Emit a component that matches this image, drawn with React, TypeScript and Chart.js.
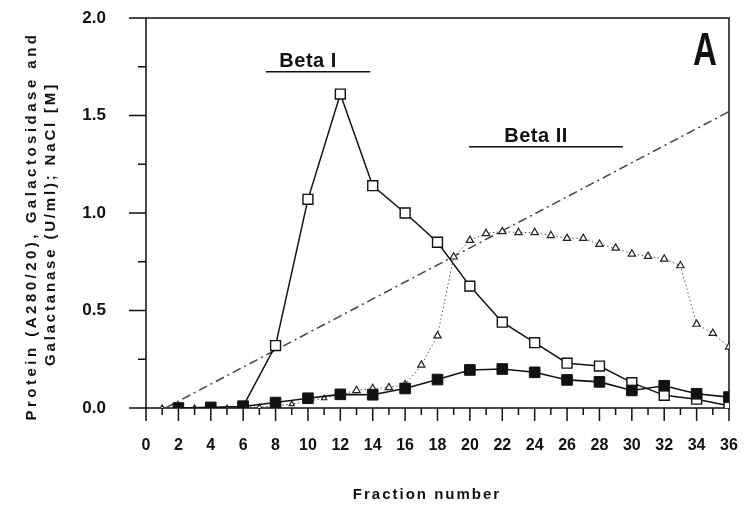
import { useEffect, useRef } from 'react';
import { Chart, registerables } from 'chart.js';

Chart.register(...registerables);

// Protein (A280/20), open squares
const proteinFractions = [6, 8, 10, 12, 14, 16, 18, 20, 22, 24, 26, 28, 30, 32, 34, 36];
const proteinValues = [0.01, 0.32, 1.07, 1.61, 1.14, 1.0, 0.85, 0.625, 0.44, 0.335, 0.23, 0.215, 0.13, 0.065, 0.045, 0.012];

// Galactosidase (U/ml), filled squares
const galactosidaseFractions = [2, 4, 6, 8, 10, 12, 14, 16, 18, 20, 22, 24, 26, 28, 30, 32, 34, 36];
const galactosidaseValues = [0.0, 0.003, 0.008, 0.028, 0.05, 0.07, 0.068, 0.1, 0.146, 0.195, 0.2, 0.183, 0.144, 0.134, 0.09, 0.114, 0.073, 0.056];

// Galactanase (U/ml), open triangles
const galactanaseFractions = [1, 2, 3, 4, 5, 6, 7, 8, 9, 10, 11, 12, 13, 14, 15, 16, 17, 18, 19, 20, 21, 22, 23, 24, 25, 26, 27, 28, 29, 30, 31, 32, 33, 34, 35, 36];
const galactanaseValues = [0, 0, 0, 0, 0, 0.003, 0.005, 0.01, 0.02, 0.035, 0.05, 0.07, 0.09, 0.1, 0.105, 0.12, 0.22, 0.37, 0.775, 0.86, 0.895, 0.905, 0.9, 0.9, 0.885, 0.87, 0.87, 0.84, 0.82, 0.79, 0.778, 0.764, 0.73, 0.43, 0.383, 0.313];

// NaCl gradient [M]
const saltFractions = [1.2, 36];
const saltValues = [0, 1.52];

// Pooled fractions
const poolLabels = ['Beta I', 'Beta II'];
const poolStart = [7.4, 19.95];
const poolEnd = [13.85, 29.45];
const poolLevel = [1.725, 1.34];

const W = 747;
const H = 508;
const AREA_LEFT = 146;
const AREA_RIGHT = 729;
const AREA_TOP = 18;
const AREA_BOTTOM = 408;

const FONT = "'Liberation Sans', Arial, sans-serif";
const INK = '#111';

const points = (xs: number[], ys: number[]) => xs.map((x, i) => ({ x, y: ys[i] }));

// the axes keep the plot box fixed; no extra room for label overhang
const clearScalePadding = (s: any) => {
  s.paddingTop = 0;
  s.paddingBottom = 0;
  s.paddingLeft = 0;
  s.paddingRight = 0;
};

// draw text stretched by letter spacing to a given length
const spacedText = (ctx: CanvasRenderingContext2D, text: string, length: number) => {
  ctx.letterSpacing = '0px';
  const w = ctx.measureText(text).width;
  ctx.letterSpacing = `${Math.max(0, (length - w) / text.length)}px`;
  ctx.fillText(text, 0, 0);
  ctx.letterSpacing = '0px';
};

const framePlugin = {
  id: 'frame',
  beforeDatasetsDraw(chart: any) {
    const { ctx, chartArea: a, scales } = chart;
    const xs = scales.x;
    const ys = scales.y;
    ctx.save();
    ctx.strokeStyle = INK;
    ctx.lineWidth = 1.5;
    ctx.beginPath();
    ctx.rect(a.left, a.top, a.right - a.left, a.bottom - a.top);
    ctx.stroke();
    ctx.beginPath();
    // y ticks, pointing outward to the left
    for (let v = 0; v <= 2.0001; v += 0.25) {
      const y = ys.getPixelForValue(v);
      const major = Math.abs(v * 2 - Math.round(v * 2)) < 1e-6;
      ctx.moveTo(a.left - (major ? 17 : 8), y);
      ctx.lineTo(a.left, y);
    }
    // x ticks, pointing down
    for (let v = 0; v <= 36; v += 1) {
      const x = xs.getPixelForValue(v);
      ctx.moveTo(x, a.bottom);
      ctx.lineTo(x, a.bottom + (v % 2 === 0 ? 13 : 7));
    }
    ctx.stroke();

    // pooled fraction bars with their labels
    ctx.font = `bold 20px ${FONT}`;
    ctx.fillStyle = INK;
    ctx.textAlign = 'center';
    ctx.textBaseline = 'alphabetic';
    poolLabels.forEach((label, i) => {
      const x0 = xs.getPixelForValue(poolStart[i]);
      const x1 = xs.getPixelForValue(poolEnd[i]);
      const y = ys.getPixelForValue(poolLevel[i]);
      ctx.beginPath();
      ctx.moveTo(x0, y);
      ctx.lineTo(x1, y);
      ctx.stroke();
      ctx.letterSpacing = '0.5px';
      ctx.fillText(label, (x0 + x1) / 2 - 10, y - 5);
      ctx.letterSpacing = '0px';
    });
    ctx.restore();
  },
  afterDraw(chart: any) {
    const { ctx } = chart;
    ctx.save();
    ctx.fillStyle = INK;
    ctx.textAlign = 'center';
    ctx.textBaseline = 'middle';

    // y-axis title, two rotated lines
    ctx.font = `bold 15px ${FONT}`;
    ctx.save();
    ctx.translate(32, 226);
    ctx.rotate(-Math.PI / 2);
    spacedText(ctx, 'Protein (A280/20), Galactosidase and', 389);
    ctx.restore();
    ctx.save();
    ctx.translate(51, 224);
    ctx.rotate(-Math.PI / 2);
    spacedText(ctx, 'Galactanase (U/ml); NaCl [M]', 284);
    ctx.restore();

    // x-axis title
    ctx.font = `bold 15px ${FONT}`;
    ctx.letterSpacing = '2px';
    ctx.fillText('Fraction number', 427, 495);

    // panel letter
    ctx.letterSpacing = '0px';
    ctx.font = `bold 46px ${FONT}`;
    ctx.save();
    ctx.translate(705, 50);
    ctx.scale(0.72, 1);
    ctx.fillText('A', 0, 2);
    ctx.restore();
    ctx.restore();
  },
};

export default function App() {
  const canvasRef = useRef<HTMLCanvasElement | null>(null);

  useEffect(() => {
    const canvas = canvasRef.current;
    if (!canvas) return;
    const chart = new Chart(canvas, {
      type: 'line',
      data: {
        datasets: [
          {
            label: 'Galactosidase',
            data: points(galactosidaseFractions, galactosidaseValues),
            order: 0,
            borderColor: INK,
            borderWidth: 1.6,
            pointStyle: 'rect',
            pointRadius: 7.5,
            pointBackgroundColor: INK,
            pointBorderColor: INK,
            pointBorderWidth: 1,
          },
          {
            label: 'Protein',
            data: points(proteinFractions, proteinValues),
            order: 1,
            borderColor: INK,
            borderWidth: 1.5,
            pointStyle: 'rect',
            pointRadius: 7,
            pointBackgroundColor: '#fff',
            pointBorderColor: INK,
            pointBorderWidth: 1.4,
          },
          {
            label: 'Galactanase',
            data: points(galactanaseFractions, galactanaseValues),
            order: 2,
            borderColor: '#555',
            borderWidth: 1,
            borderDash: [1.5, 2.5],
            pointStyle: 'triangle',
            // markers near the baseline are plotted smaller
            pointRadius: (c: any) => (c.raw && c.raw.y < 0.06 ? 3 : 4.2),
            pointBackgroundColor: '#fff',
            pointBorderColor: '#222',
            pointBorderWidth: 1.2,
          },
          {
            label: 'NaCl',
            data: points(saltFractions, saltValues),
            order: 3,
            borderColor: '#444',
            borderWidth: 1.5,
            borderDash: [9, 4, 2, 4],
            pointRadius: 0,
          },
        ],
      },
      options: {
        animation: false,
        responsive: false,
        layout: {
          autoPadding: false,
          padding: { left: 0, right: W - AREA_RIGHT, top: AREA_TOP, bottom: 0 },
        },
        elements: { line: { tension: 0 } },
        plugins: { legend: { display: false }, tooltip: { enabled: false } },
        scales: {
          x: {
            type: 'linear',
            min: 0,
            max: 36,
            afterFit: (s: any) => {
              s.height = H - AREA_BOTTOM;
              clearScalePadding(s);
            },
            grid: { display: false, drawTicks: false },
            border: { display: false },
            ticks: {
              stepSize: 2,
              autoSkip: false,
              maxRotation: 0,
              padding: 28,
              color: INK,
              font: { family: FONT, size: 16, weight: 'bold' },
            },
          },
          y: {
            min: 0,
            max: 2,
            afterFit: (s: any) => {
              s.width = AREA_LEFT;
              clearScalePadding(s);
            },
            grid: { display: false, drawTicks: false },
            border: { display: false },
            ticks: {
              stepSize: 0.5,
              padding: 40,
              color: INK,
              font: { family: FONT, size: 17, weight: 'bold' },
              callback: (v: any) => Number(v).toFixed(1),
            },
          },
        },
      },
      plugins: [framePlugin],
    });
    return () => chart.destroy();
  }, []);

  return (
    <div style={{ position: 'fixed', left: 0, top: 0, width: W, height: H, background: '#fff' }}>
      <canvas ref={canvasRef} width={W} height={H} style={{ display: 'block' }} />
    </div>
  );
}
